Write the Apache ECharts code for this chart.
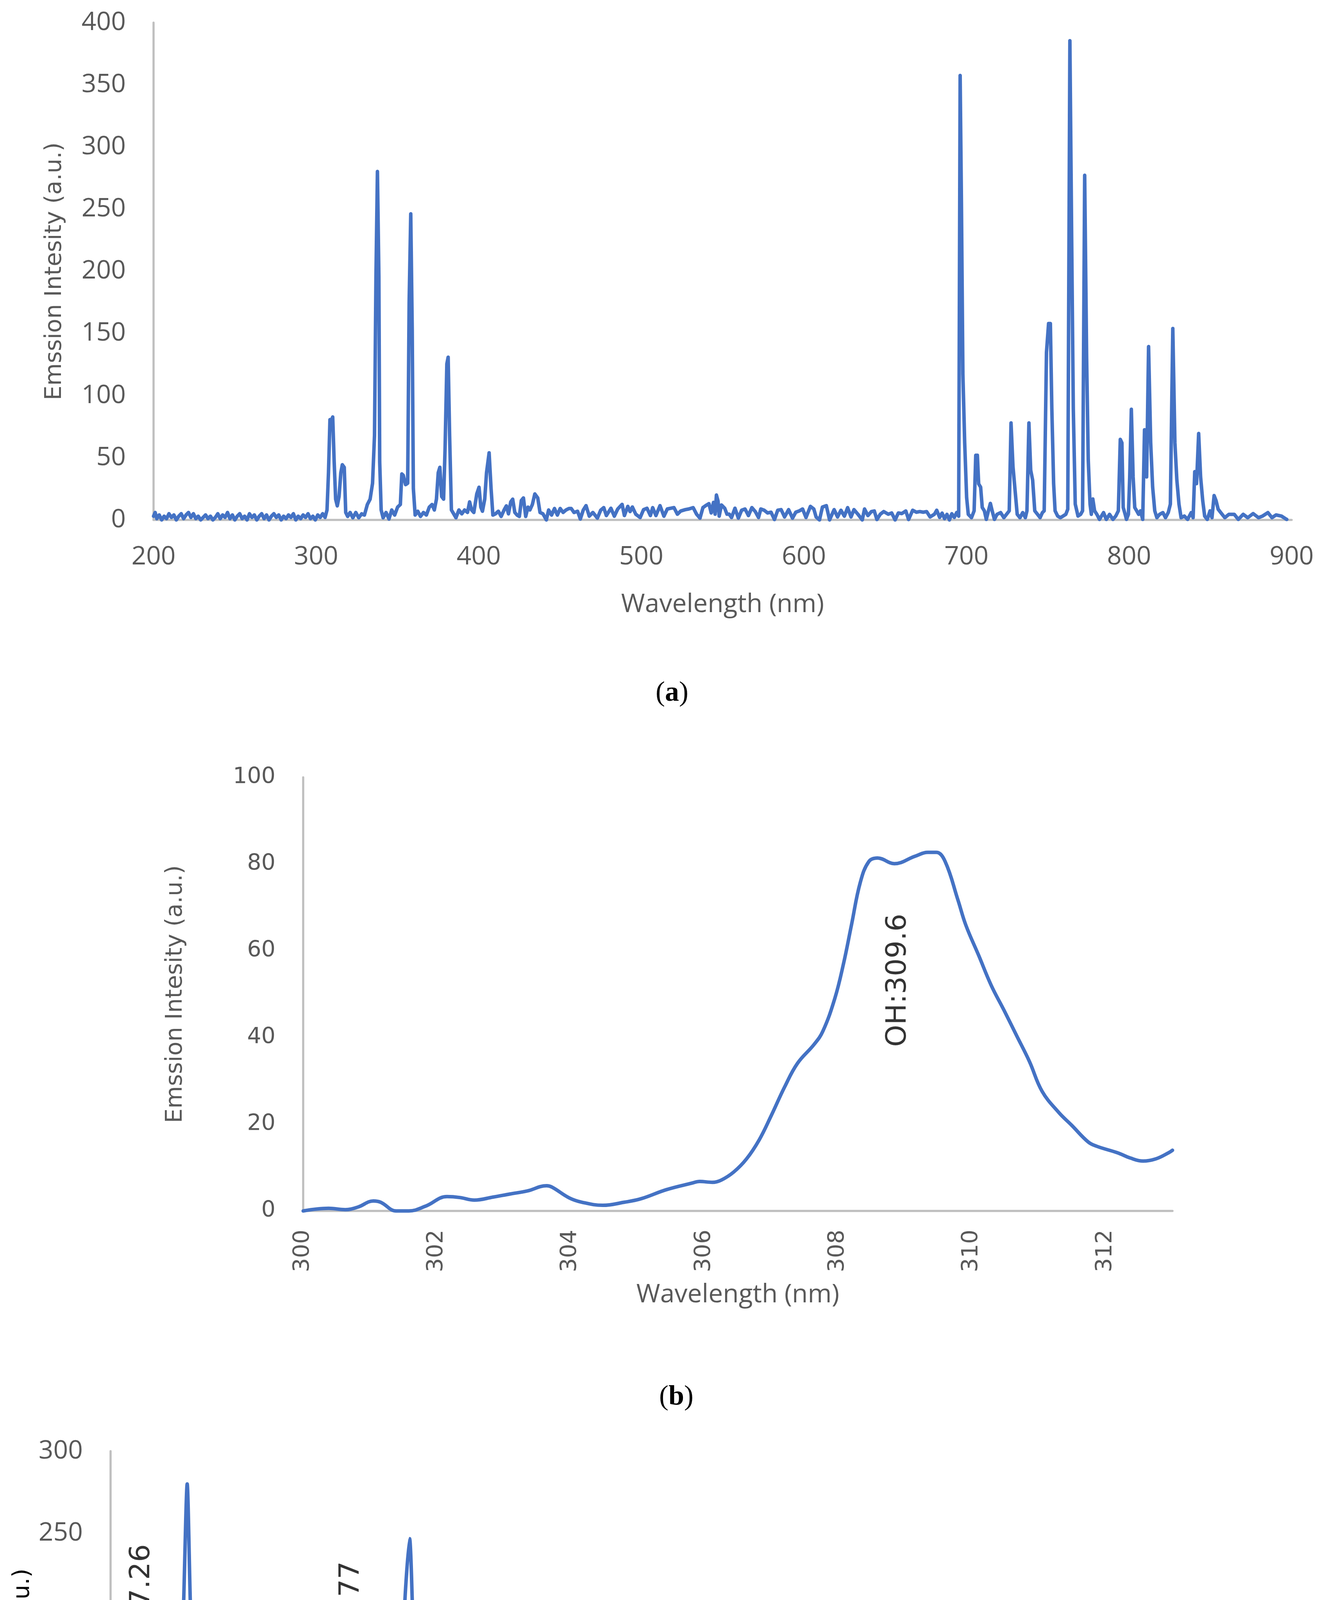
<!DOCTYPE html>
<html lang="en">
<head>
<meta charset="UTF-8">
<title>Emission spectra</title>
<style>
  html, body { margin: 0; padding: 0; background: #ffffff; }
  #chart { width: 3376px; height: 5340px; }
</style>
</head>
<body>
<div id="chart"></div>
<script src="https://cdn.jsdelivr.net/npm/echarts@6/dist/echarts.min.js"></script>
<script>
// (a) full spectrum 200-900 nm, [wavelength, intensity]
var fullSpectrum = [
  [200,3],[201,6],[202,1],[203.5,4],[205,0],[206.5,3],[208,1],[209.5,5],[211,2],[212.5,4],[214,0],[215.5,3],[217,5],[218.5,1],
  [220,4],[221.5,6],[223,2],[224.5,5],[226,1],[227.5,3],[229,0],[230.5,2],[232,4],[233.5,1],[235,3],[236.5,0],[238,2],[239.5,5],
  [241,1],[242.5,4],[244,2],[245.5,6],[247,1],[248.5,4],[250,0],[251.5,3],[253,5],[254.5,1],[256,3],[257.5,0],[259,5],[260.5,2],
  [262,4],[263.5,0],[265,3],[266.5,5],[268,1],[269.5,4],[271,0],[272.5,3],[274,5],[275.5,2],[277,4],[278.5,0],[280,3],[281.5,1],
  [283,4],[284.5,2],[286,5],[287.5,0],[289,3],[290.5,1],[292,4],[293.5,2],[295,5],[296.5,1],[298,3],[299.5,0],[301,4],[302.5,2],
  [304,5],[305.5,2],[306.7,8],[307.6,38],[308.5,80.7],[309.3,80],[310.2,82.8],[311.1,46.6],[312,16.7],[313,11.3],[314.1,18.8],
  [315.2,38],[316.1,44.4],[317.3,42.3],[318.2,6],[319.4,2.8],[320.9,6],[322.6,1.7],[324.4,6],[326.2,1.7],[328,4.9],[329.7,3.9],
  [331.5,12.4],[333.2,16.7],[334.7,29.5],[335.9,68],[336.8,196],[337.7,280.3],[338.6,196],[339.1,46.6],[340,8],[341.2,1.7],
  [343,6],[344.8,0.7],[346.5,8],[348.3,3.9],[350.1,10.3],[351.8,12.4],[352.7,37],[353.6,35.9],[355,28.4],[356.3,29.5],
  [357.2,174.6],[358.2,246.2],[359.1,153.3],[359.8,25.2],[360.9,3.9],[362.5,7],[364.2,2.8],[366,6],[367.8,3.9],[369.6,10.3],
  [371.3,12.4],[372.7,8],[374,16.7],[375.1,38],[376.1,42.3],[377.2,18.8],[378.4,16.7],[379.3,57.2],[380.4,125.5],[381.2,130.9],
  [382.1,67.9],[383.2,8],[384.6,4.9],[386,1.7],[387.8,8],[389.6,4.9],[391.3,8],[393.1,6],[394.4,14.5],[395.6,8],[397,6],
  [398.8,20.9],[400.2,26.3],[401.3,10.3],[402.3,7],[403.7,16.7],[404.8,38],[406.4,54],[407.6,25.2],[408.7,3.9],[410.3,4.9],
  [412.1,7],[413.8,2.8],[415.6,8],[417,11.3],[418.3,4.9],[419.7,14.5],[420.9,16.7],[422.2,6],[423.6,3.9],[425,2.8],[426.2,15.6],
  [427.5,17.7],[428.9,2.8],[430.3,10.3],[431.5,8],[433,12.4],[434.5,20.9],[436.3,17.7],[437.7,6],[439.5,4.9],[441.6,0],[443,8],
  [444.8,3.9],[446.6,9.2],[448.4,3.9],[450.1,9.2],[451.9,6],[453.7,8],[455.5,9.2],[456.9,9.2],[458.6,6],[460.8,7],[462.5,0.7],
  [464.3,8],[466,11.5],[468,3],[470.2,6],[473,1.4],[475,7.8],[476.9,9.9],[478.5,3.5],[481.3,9.4],[483.4,3],[485.5,8.8],
  [488.2,12.5],[489.6,3.5],[491.7,10.9],[493.1,6.7],[494.5,10.4],[496.6,4.6],[499.3,1.9],[501.4,8.3],[503.5,9.4],[505.6,3.5],
  [507,9.9],[509,3.5],[511.5,11.5],[513.9,3],[516,8.8],[518.1,9.4],[520.1,9.9],[522.2,4.6],[524.3,7.2],[527.1,8.3],[529.2,8.8],
  [531.9,9.9],[534,4.6],[536.1,1.4],[537.9,9.9],[539.6,11.5],[541.6,13.1],[543,5.6],[544.4,14.1],[545.4,4.6],[546.2,20],
  [547.2,15.2],[547.9,3],[549.3,12],[551.3,9.4],[552.7,4.6],[554.1,4.6],[555.5,1.9],[557.6,9.4],[559.7,1.4],[561.7,7.8],
  [563.8,8.8],[565.9,3.5],[568,9.9],[570.1,6.7],[572.1,1.9],[573.5,8.8],[575.6,7.8],[577.7,5.6],[579.8,6.2],[581.9,0.3],
  [583.9,7.8],[586,8.3],[588.1,2.4],[590.6,8.3],[593,1.4],[595,6.2],[597.1,7.2],[599.2,8.8],[601.3,1.9],[604,10.9],[606.1,8.8],
  [607.5,2.4],[609.6,0],[611.4,10.4],[613.8,11.5],[615.8,0],[618.6,8.3],[620.7,2.4],[622.8,7.8],[624.9,3],[626.9,9.9],[629,2.4],
  [630.8,8.3],[633.2,4.6],[635.9,0],[637.3,8.8],[639.4,3.5],[641.5,6.7],[643.3,7.2],[644.9,0.3],[647,4.6],[649.1,6.7],
  [651.9,4.6],[654,5.6],[656.1,0],[658.1,5.6],[660.2,5.1],[662.7,7.2],[664.4,0.3],[666.9,7.8],[669.2,6.2],[671.3,6.7],
  [673.4,6.2],[675.5,6.7],[677.6,2.4],[680.3,4.6],[681.7,7.8],[683.5,2],[685,5.5],[686.5,1],[688,4.5],[689.5,0],[691,5],
  [692.5,2],[694,6],[695.2,3],[696.1,357.5],[696.9,254],[697.8,117],[698.9,62],[700.1,18],[701.1,4.5],[703.1,1.8],[704.7,7.3],
  [705.7,52],[706.7,52],[707.5,29],[708.7,26.4],[709.7,10],[711,7.3],[712.2,0.4],[713.5,7.3],[714.7,13.3],[715.8,7.3],
  [717.2,0.4],[718.8,4.5],[721,5.9],[723,1.8],[724.6,4.5],[726.3,7.3],[727.4,78],[728.6,43],[729.9,23.7],[731.2,4.5],
  [732.9,1.8],[734.6,5.9],[736.2,1.8],[737.2,7.3],[738.4,78],[739.5,40],[740.7,32],[742,7.3],[743.7,4.5],[745.3,1.8],
  [746.7,5.9],[747.8,7.3],[749.2,134.7],[750.5,158],[751.6,158],[752.5,89.5],[753.6,29.2],[754.5,7.3],[756.1,3.1],[757.8,1.8],
  [759.4,3.1],[761.1,4.5],[762.3,8.6],[763.6,385.5],[764.7,226.5],[765.7,89.5],[766.9,12.7],[768.6,3.1],[770.2,4.5],[771.4,7.3],
  [772.7,277.2],[773.9,130.6],[774.9,48.4],[776,12.7],[776.8,4.5],[777.7,16.8],[778.8,7.3],[780.2,4.5],[781.8,0.4],[784.3,5.9],
  [786,0.4],[788,4.5],[790.1,0.4],[791.8,3.1],[793.4,7.3],[794.6,64.8],[795.6,62],[796.4,10],[797.6,4.5],[798.4,0.4],
  [799.6,4.5],[800.4,34.6],[801.4,89],[802.5,34.6],[803.5,10],[804.7,7.3],[805.9,4.5],[807,7.3],[808.4,0.4],[809.5,72.5],
  [810.8,34.6],[812,139.4],[813.3,62],[814.5,26.4],[815.8,7.3],[817.1,1.8],[818.8,4.5],[820.8,5.9],[822.4,1.8],[824.1,5.9],
  [825.4,12.7],[826.9,154],[828.2,62],[829.4,32],[830.7,12.7],[832,1.8],[834,3.1],[836,0.4],[838.2,5.9],[839.4,1.8],
  [840.4,38.8],[841.5,29.2],[842.8,69.5],[844,34.6],[845.3,15.5],[846.5,3.1],[848.1,0.4],[849.8,7.3],[851,1.8],[852.3,19.6],
  [853.5,15.5],[854.8,8.6],[856.4,5.9],[858.9,1.8],[861.4,4.5],[864.7,4.5],[867.2,0.4],[870.2,4.5],[873,1.8],[876.3,5.1],
  [879.6,1.8],[882.1,3.1],[885.4,5.9],[887.9,1.8],[890.4,4],[893.7,3.1],[896.2,1],[897,0.4]
];

// (b) OH band 300-313 nm
var ohBand = [
  [300,0],[300.38,0.6],[300.63,0.3],[300.82,0.9],[301.05,2.3],[301.16,2.0],[301.39,0],[301.58,0],[301.83,1.1],[302.15,3.3],
  [302.34,3.1],[302.56,2.5],[302.84,3.2],[303.09,3.9],[303.35,4.6],[303.64,5.8],[303.72,5.5],[303.98,3.0],[304.17,2.0],
  [304.48,1.3],[304.8,2.0],[305.05,2.8],[305.43,4.9],[305.81,6.4],[305.93,6.8],[306.12,6.6],[306.25,7.1],[306.44,9.0],
  [306.63,12],[306.82,16.4],[307.0,22],[307.2,28.6],[307.39,34],[307.64,38.4],[307.77,41.4],[307.95,49],[308.08,57],
  [308.2,66],[308.33,75.7],[308.46,80.6],[308.59,81.4],[308.84,80.1],[309.15,81.8],[309.34,82.7],[309.47,82.7],[309.6,80.6],
  [309.79,71.8],[309.91,65.9],[310.1,59],[310.29,52],[310.48,46.3],[310.67,40.4],[310.86,34.5],[311.05,27.6],[311.3,22.7],
  [311.49,19.8],[311.74,15.9],[311.87,14.9],[312.18,13.4],[312.37,12.2],[312.56,11.5],[312.75,12],[312.94,13.4],[313,14]
];

// (c) N2 bands 330-440 nm
var n2Bands = [
  [330,0],[330.5,6],[330.9,1.5],[331.5,4.7],[332.1,12],[332.7,8.6],[333.2,12.5],[333.7,16.4],[334.2,24],[334.6,27],[335.2,46],
  [335.6,75],[336.2,119],[336.7,192],[337.1,280],[337.4,205],[337.9,114],[338.3,49],[338.7,12.5],[339.2,6],[339.6,0],
  [340.1,6.8],[340.7,0.5],[341.3,0],[341.9,2.6],[342.5,1.6],[343.1,6.5],[343.6,0.5],[344.2,5.2],[344.7,0],[345.3,5.2],
  [345.8,3.9],[346.4,8.6],[347.0,1.3],[347.6,6.5],[348.1,6],[348.7,4.2],[349.4,6.5],[349.9,7.3],[350.5,11.4],[350.9,7.3],
  [351.5,12.5],[352.0,19],[352.5,27],[353.0,32],[353.7,37.7],[354.2,32.8],[354.8,31.2],[355.2,29.4],[355.6,51.5],[356.2,82.7],
  [356.7,134.8],[357.3,212.9],[357.7,246.7],[358.1,176],[358.7,88],[359.2,23],[359.7,4.7],[360.3,3.4],[360.9,4.7],[361.4,2.6],
  [362.1,6],[362.4,7.3],[363.1,2],[363.6,6],[364.2,3.4],[364.8,6.5],[365.3,2.6],[365.9,4.2],[366.6,6],[367.1,2.6],[367.7,2.6],
  [368.3,6],[368.9,5.2],[369.5,7.3],[370.0,10],[370.5,8.6],[371.1,13],[371.6,10],[372.1,7.3],[372.6,11.2],[373.2,15],
  [373.8,17.7],[374.4,28],[374.7,33],[375.2,42.4],[375.6,36],[376.0,24],[376.6,16.4],[377.2,17.2],[377.6,15],[378.1,25.5],
  [378.7,38.5],[379.1,62],[379.6,95.8],[380.2,130.9],[380.7,114],[381.3,64.5],[381.8,33.3],[382.3,15],[382.8,4.7],[383.4,2.6],
  [383.8,6],[384.4,1.6],[384.9,2],[385.6,2.6],[386.2,4.7],[386.7,2],[387.3,6],[387.8,2.6],[388.3,6.5],[388.9,6],[389.5,8.6],
  [390.0,6],[390.7,5.2],[391.2,6],[391.8,6.8],[392.4,4.7],[393.0,8.6],[393.4,7.8],[394.0,13.8],[394.4,9.9],[395.0,7.8],
  [395.5,10.4],[396.1,6],[396.7,7.3],[397.2,9.9],[397.7,6.5],[398.3,13.8],[398.7,20.3],[399.4,25.5],[399.9,20.3],[400.5,15],
  [401.0,9.9],[401.5,6],[402.0,9.9],[402.6,6.8],[403.2,13.8],[403.7,16.4],[404.2,25.5],[404.8,37.2],[405.3,46.3],[405.7,54],
  [406.1,41],[406.6,23],[407.1,15],[407.7,6],[408.1,0.8],[408.7,5.2],[409.2,3.4],[409.9,5.2],[410.5,4.7],[410.8,6.8],
  [411.4,2.6],[412.1,2],[412.6,6],[413.2,4.2],[413.6,7.8],[414.2,7.8],[414.7,9.4],[415.2,4.2],[415.7,7.3],[416.3,12],
  [416.9,7.3],[417.5,9.9],[417.9,5.2],[418.5,8.6],[419.1,9.9],[419.5,13],[420.0,16.4],[420.4,15],[420.8,9.9],[421.2,11.2],
  [421.6,6],[422.2,4.2],[422.8,7.3],[423.3,8.6],[423.9,2.6],[424.5,7.3],[425.1,9.9],[425.7,13.8],[426.3,16.4],[426.8,17.2],
  [427.3,15],[427.8,14.6],[428.2,9.9],[428.8,4.7],[429.4,6.8],[429.9,8.6],[430.6,5.2],[431.1,8.6],[431.6,8.6],[432.1,11.2],
  [432.7,12],[433.2,15],[433.7,20.8],[434.1,19],[434.5,16.4],[434.9,17.7],[435.4,17.7],[435.9,15],[436.4,8.6],[437.0,6.8],
  [437.6,8.6],[438.2,3.4],[438.6,6],[439.2,2.6],[439.7,4.2],[440,0]
];

// peak labels: [x, y, text]
var ohLabels = [[308.9, 53.2, 'OH:309.6']];
var n2Labels = [
  [332.9, 198, 'N\u2082: 337.26'],
  [352.3, 187.5, 'N\u2082: 357.77'],
  [377.4, 133.7, 'N\u2082: 380.36'],
  [406.2, 80.4, 'N\u2082: 405.22'],
  [434.9, 65.4, 'N\u2082: 433.62']
];

var panelLetters = ['a', 'b', 'c'];

var lineColor = '#4472C4';
var axisColor = '#BFBFBF';
var grayText = '#595959';
var tickFont = 'Open Sans';
var wideFont = 'DejaVu Sans';

function xAxisOf(grid, min, max, interval, opt) {
    return {
        type: 'value', gridIndex: grid, min: min, max: max, interval: interval,
        name: 'Wavelength (nm)', nameLocation: 'middle', nameGap: opt.nameGap,
        nameTextStyle: {fontFamily: tickFont, fontSize: 66, color: opt.nameColor || grayText},
        axisLine: {show: true, onZero: false, lineStyle: {color: axisColor, width: 5.5}},
        axisTick: {show: false},
        splitLine: {show: false},
        axisLabel: opt.label
    };
}

function yAxisOf(grid, max, interval, opt) {
    return {
        type: 'value', gridIndex: grid, min: 0, max: max, interval: interval,
        name: 'Emssion Intesity (a.u.)', nameLocation: 'middle', nameGap: opt.nameGap,
        nameTextStyle: {fontFamily: wideFont, fontSize: 59, color: opt.nameColor || grayText},
        axisLine: {show: true, lineStyle: {color: axisColor, width: 5.5}},
        axisTick: {show: false},
        splitLine: {show: false},
        axisLabel: {margin: 71, color: grayText, fontFamily: opt.font || tickFont, fontSize: opt.fontSize || 66}
    };
}

function spectrum(idx, data, smooth) {
    return {
        type: 'line', xAxisIndex: idx, yAxisIndex: idx, data: data,
        showSymbol: false, symbol: 'none', smooth: smooth, clip: false,
        lineStyle: {color: lineColor, width: 9, join: 'round', cap: 'round'},
        z: 3
    };
}

function peakLabels(idx, list) {
    return {
        type: 'scatter', xAxisIndex: idx, yAxisIndex: idx, symbolSize: 1,
        itemStyle: {color: 'rgba(0,0,0,0)'},
        data: list.map(function (p) { return {value: [p[0], p[1]], name: p[2]}; }),
        label: {
            show: true, position: 'inside', rotate: 90, formatter: '{b}',
            color: '#000000', fontFamily: wideFont, fontSize: 72
        },
        z: 4
    };
}

var captionPos = [[1720, 1775], [1731, 3577], [1727, 5279]];

var chart = echarts.init(document.getElementById('chart'), null, {renderer: 'canvas'});
chart.setOption({
    animation: false,
    backgroundColor: '#ffffff',
    grid: [
        {left: 393, top: 58, width: 2913, height: 1273},
        {left: 776, top: 1990, width: 2225, height: 1110},
        {left: 283, top: 3715, width: 3039, height: 1261}
    ],
    xAxis: [
        xAxisOf(0, 200, 900, 100, {
            nameGap: 184,
            label: {margin: 62, color: grayText, fontFamily: tickFont, fontSize: 66}
        }),
        xAxisOf(1, 300, 313, 1, {
            nameGap: 182,
            label: {
                margin: 48, rotate: 90, color: grayText, fontFamily: wideFont, fontSize: 57,
                formatter: function (v) { return v % 2 === 0 ? String(v) : ''; }
            }
        }),
        xAxisOf(2, 330, 440, 10, {
            nameGap: 126, nameColor: '#000000',
            label: {
                margin: 62, color: grayText, fontFamily: tickFont, fontSize: 66,
                formatter: function (v) { return (v - 330) % 20 === 0 ? String(v) : ''; }
            }
        })
    ],
    yAxis: [
        yAxisOf(0, 400, 50, {nameGap: 223}),
        yAxisOf(1, 100, 20, {nameGap: 297, font: wideFont, fontSize: 57}),
        yAxisOf(2, 300, 50, {nameGap: 189, nameColor: '#000000'})
    ],
    series: [
        spectrum(0, fullSpectrum, false),
        spectrum(1, ohBand, 0.4),
        spectrum(2, n2Bands, 0.25),
        peakLabels(1, ohLabels),
        peakLabels(2, n2Labels)
    ],
    graphic: panelLetters.map(function (c, i) {
        return {
            type: 'text', x: captionPos[i][0], y: captionPos[i][1],
            style: {
                text: '{p|(}{b|' + c + '}{p|)}',
                align: 'center', verticalAlign: 'middle',
                rich: {
                    p: {fontFamily: 'Liberation Serif', fontSize: 72, fill: '#000000'},
                    b: {fontFamily: 'Liberation Serif', fontSize: 72, fontWeight: 'bold', fill: '#000000'}
                }
            }
        };
    })
});
</script>
</body>
</html>
